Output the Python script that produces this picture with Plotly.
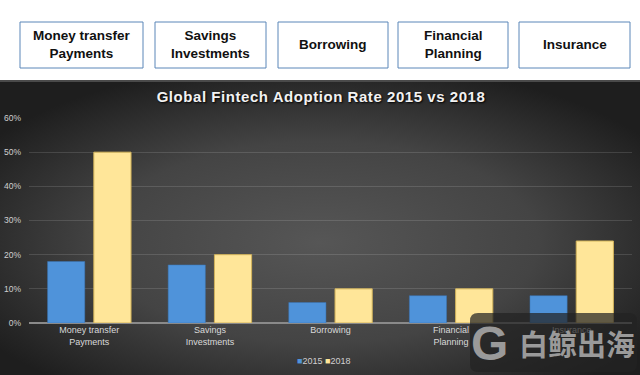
import base64
import plotly.graph_objects as go

categories = ["Money transfer<br>Payments", "Savings<br>Investments", "Borrowing",
              "Financial<br>Planning", "Insurance"]
box_labels = ["Money transfer<br>Payments", "Savings<br>Investments", "Borrowing",
              "Financial<br>Planning", "Insurance"]
series_names = ["2015", "2018"]
values_2015 = [18, 17, 6, 8, 8]
values_2018 = [50, 20, 10, 10, 24]
y_ticks = [0, 10, 20, 30, 40, 50, 60]
y_tick_labels = ["0%", "10%", "20%", "30%", "40%", "50%", "60%"]
title_text = "Global Fintech Adoption Rate 2015 vs 2018"

BLUE, YELLOW = "#4f93da", "#ffe699"

W, H = 640, 375
L, R, T, B = 29, 8, 118, 52
pw, ph = W - L - R, H - T - B


def px(x):
    return (x - L) / pw


def py(y):
    return (H - B - y) / ph


svg = ("<svg xmlns='http://www.w3.org/2000/svg' width='640' height='295' viewBox='0 0 640 295' "
       "preserveAspectRatio='none'><defs><radialGradient id='g' cx='50%' cy='55%' r='62%'>"
       "<stop offset='0' stop-color='#565656'/><stop offset='0.55' stop-color='#444444'/>"
       "<stop offset='1' stop-color='#1e1e1e'/></radialGradient></defs>"
       "<rect width='640' height='295' fill='url(#g)'/>"
       "<rect width='640' height='2' fill='#4a4a4a'/></svg>")
bg_src = "data:image/svg+xml;base64," + base64.b64encode(svg.encode()).decode()

fig = go.Figure()
fig.add_trace(go.Bar(name=series_names[0], x=categories, y=values_2015, showlegend=False,
                     marker=dict(color=BLUE, line=dict(color="#3a75b5", width=0.5))))
fig.add_trace(go.Bar(name=series_names[1], x=categories, y=values_2018, showlegend=False,
                     marker=dict(color=YELLOW, line=dict(color="#d2b35a", width=1))))

shapes = []
annotations = []
boxes = [(20, 143), (155, 266), (278, 388), (398, 508), (519, 630)]
for (x0, x1), lab in zip(boxes, box_labels):
    shapes.append(dict(type="rect", xref="paper", yref="paper", x0=px(x0), x1=px(x1),
                       y0=py(68), y1=py(22), line=dict(color="#5b86b8", width=1),
                       fillcolor="white"))
    annotations.append(dict(xref="paper", yref="paper", x=px((x0 + x1) / 2), y=py(45),
                            xanchor="center", yanchor="middle",
                            text=lab, showarrow=False,
                            font=dict(family="Arial, Liberation Sans", size=13.5,
                                      color="#111111", weight="bold")))

# compact legend
legend_text = (f"<span style='color:{BLUE}'>■</span>{series_names[0]} "
               f"<span style='color:{YELLOW}'>■</span>{series_names[1]}")
annotations.append(dict(xref="paper", yref="paper", x=px(323), y=py(361),
                        xanchor="center", yanchor="middle", showarrow=False, text=legend_text,
                        font=dict(family="Arial, Liberation Sans", size=9, color="#d0d0d0")))

# watermark
wx0, wx1, wy0, wy1, r = 470, 637, 313, 372, 8
path = (f"M {px(wx0+r)} {py(wy0)} L {px(wx1-r)} {py(wy0)} Q {px(wx1)} {py(wy0)} {px(wx1)} {py(wy0+r)} "
        f"L {px(wx1)} {py(wy1-r)} Q {px(wx1)} {py(wy1)} {px(wx1-r)} {py(wy1)} "
        f"L {px(wx0+r)} {py(wy1)} Q {px(wx0)} {py(wy1)} {px(wx0)} {py(wy1-r)} "
        f"L {px(wx0)} {py(wy0+r)} Q {px(wx0)} {py(wy0)} {px(wx0+r)} {py(wy0)} Z")
shapes.append(dict(type="path", xref="paper", yref="paper", path=path,
                   fillcolor="rgba(35,35,35,0.72)", line=dict(width=0), layer="above"))
annotations.append(dict(xref="paper", yref="paper", x=px(489), y=py(343), text="G",
                        xanchor="center", yanchor="middle", showarrow=False,
                        font=dict(family="Liberation Sans", size=48, color="#9a9a9a", weight="bold")))
annotations.append(dict(xref="paper", yref="paper", x=px(577), y=py(343), text="白鲸出海",
                        xanchor="center", yanchor="middle", showarrow=False,
                        font=dict(family="Noto Sans CJK SC", size=29, color="#9a9a9a", weight="bold")))

fig.update_layout(
    width=W, height=H,
    margin=dict(l=L, r=R, t=T, b=B, autoexpand=False),
    paper_bgcolor="white", plot_bgcolor="rgba(0,0,0,0)",
    images=[dict(source=bg_src, xref="paper", yref="paper", x=px(0), y=py(80),
                 sizex=W / pw, sizey=(375 - 80) / ph, xanchor="left", yanchor="top",
                 sizing="stretch", layer="below")],
    title=dict(text=f"<span style='letter-spacing:0.55px'>{title_text}</span>",
               x=px(321), xanchor="center", xref="paper",
               y=1 - 97 / H, yanchor="middle", yref="container",
               font=dict(family="Arial, Liberation Sans", size=15, color="#f2f2f2",
                         weight="bold", shadow="1px 1px 2px #000")),
    barmode="group", bargap=0.233, bargroupgap=0.196,
    showlegend=False,
    shapes=shapes, annotations=annotations,
    font=dict(family="Arial, Liberation Sans"),
)
fig.update_xaxes(showgrid=False, tickfont=dict(size=9, color="#d9d9d9"), ticks="",
                 showline=False)
fig.update_yaxes(range=[0, 60], tickvals=y_ticks, ticktext=y_tick_labels,
                 gridcolor="rgba(255,255,255,0.13)", gridwidth=1,
                 zeroline=True, zerolinecolor="#8a8a8a", zerolinewidth=1.5,
                 tickfont=dict(size=8.5, color="#d0d0d0"), ticklabelstandoff=7)

fig.write_html("out.html", config={"displayModeBar": False},
               post_script="document.body.style.margin='0';document.body.style.overflow='hidden';")
